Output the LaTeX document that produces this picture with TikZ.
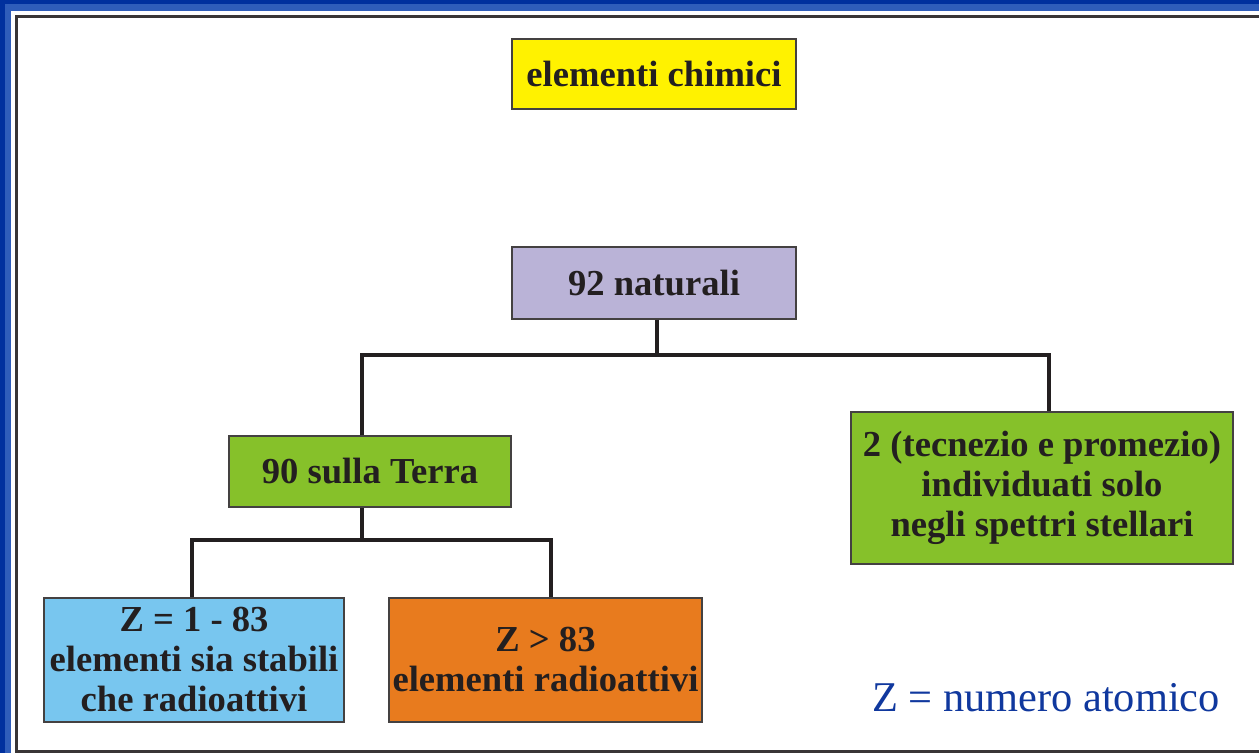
\documentclass[tikz,border=0pt]{standalone}
\usepackage{fontspec}
\setmainfont{Liberation Serif}
\usetikzlibrary{calc, positioning, backgrounds}
\definecolor{frameblue}{HTML}{00309E}
\definecolor{framelight}{HTML}{2F5DBA}
\definecolor{boxyellow}{HTML}{FFF200}
\definecolor{boxlilac}{HTML}{BAB3D7}
\definecolor{boxgreen}{HTML}{86C12A}
\definecolor{boxblue}{HTML}{78C6EF}
\definecolor{boxorange}{HTML}{E87B1E}
\definecolor{noteblue}{HTML}{10389E}
\definecolor{inkdark}{HTML}{231F20}
\tikzset{
  box/.style={draw=inkdark!85, line width=0.75pt, inner sep=0pt, align=center,
    text=inkdark, font=\fontsize{18.3}{20}\selectfont\bfseries},
  link/.style={draw=inkdark, line width=2pt}
}

\begin{document}
\begin{tikzpicture}[x=0.5pt, y=-0.5pt]
\useasboundingbox (0,0) rectangle (1259,753);
% frame
\fill[frameblue] (0,0) rectangle (1259,753);
\fill[framelight] (5,4) rectangle (1259,753);
\fill[white] (11,11) rectangle (1259,753);
\fill[gray!60] (15,15) rectangle (1259,753);
\draw[inkdark!90, line width=1.2pt] (16.5,16.5) rectangle (1262,751.5);
\fill[white] (18,18) rectangle (1259,749.5);

\node[box, fill=boxyellow, minimum width=142pt, minimum height=35pt] (elem) at (654,74) {elementi chimici};
\node[box, fill=boxlilac, minimum width=142pt, minimum height=36pt] (nat) at (654,283) {92 naturali};
\node[box, fill=boxgreen, minimum width=141pt, minimum height=35.5pt] (terra) at (370,471.5) {90 sulla Terra};
\node[box, fill=boxgreen, minimum width=191pt, minimum height=76pt] (stelle) at (1042,488) {2 (tecnezio e promezio)\\individuati solo\\negli spettri stellari};
\node[box, fill=boxblue, minimum width=150pt, minimum height=62pt] (stabili) at (194,660) {Z = 1 - 83\\elementi sia stabili\\che radioattivi};
\node[box, fill=boxorange, minimum width=156.5pt, minimum height=62pt] (radio) at (545.5,660) {Z > 83\\elementi radioattivi};

\node[text=noteblue, font=\fontsize{21.2}{24}\selectfont] (nota) at (1046,698) {Z = numero atomico};

% connectors
\coordinate (b1) at (657,355);
\coordinate (b2) at (362,540);
\draw[link] ([xshift=1.5pt]nat.south) -- (b1);
\draw[link] ([xshift=-4pt]terra.north) |- (b1) -| ([xshift=3.5pt]stelle.north);
\draw[link] ([xshift=-4pt]terra.south) -- (b2);
\draw[link] ([xshift=-1pt]stabili.north) |- (b2) -| ([xshift=2.75pt]radio.north);
\end{tikzpicture}
\end{document}
